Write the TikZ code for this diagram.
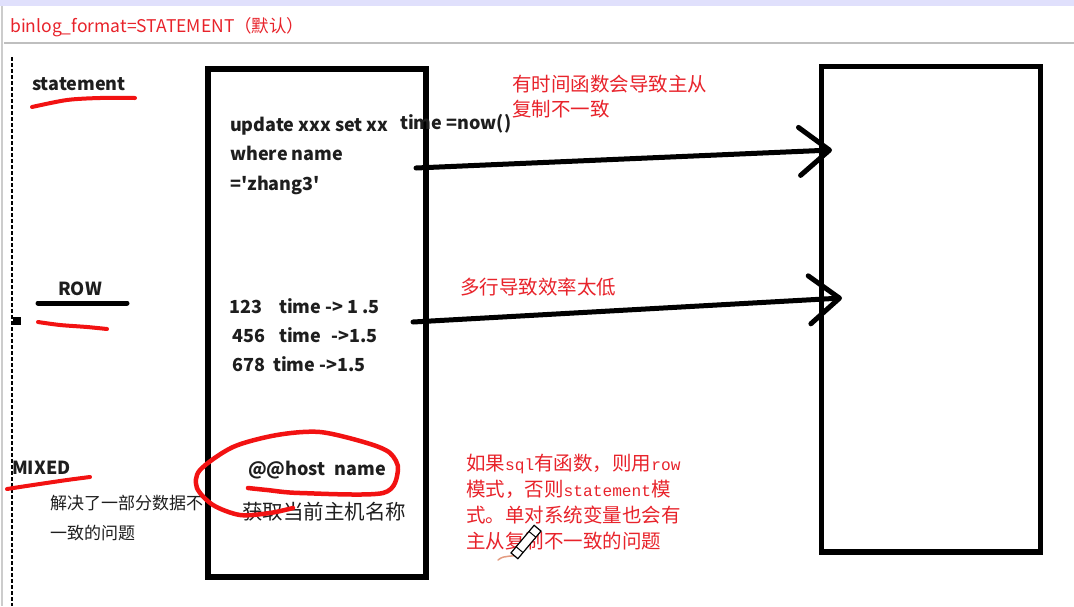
\documentclass[tikz,border=0pt]{standalone}
\usepackage{fontspec}
\setmainfont{Noto Sans CJK SC}
\newfontfamily\plainq{Noto Sans CJK SC}
\newfontfamily\monoa[Scale=0.83]{Liberation Mono}
\usetikzlibrary{arrows.meta}
\definecolor{hred}{HTML}{E8232B}
\definecolor{pred}{HTML}{F21212}
\definecolor{ink}{HTML}{1E1E1E}
\newcommand{\sq}{{\plainq\bfseries '}}
\tikzset{
  txt/.style={anchor=base west, inner sep=0pt, text=ink},
  btxt/.style={txt, font=\bfseries\fontsize{18}{20}\selectfont},
  ctxt/.style={txt, font=\fontsize{17}{20}\selectfont},
  rtxt/.style={anchor=base west, inner sep=0pt, text=hred, font=\fontsize{19.5}{22}\selectfont},
  pen/.style={draw=pred, line width=4pt, line cap=round, line join=round},
  boxb/.style={draw=black, line width=5.5pt, minimum width=#1, inner sep=0pt},
  conn/.style={draw=black, line width=5pt, line cap=round, -{Straight Barb[length=30pt,width=48pt,line width=5pt,round]}}
}
\begin{document}
\begin{tikzpicture}[x=1pt,y=-1pt]
\useasboundingbox (0,0) rectangle (1074,606);
\fill[white] (0,0) rectangle (1074,606);
% window chrome
\fill[black!8!blue!12!white] (0,0) rectangle (1074,6);
\draw[black!25, line width=2pt] (4,43) -- (1074,43);
\draw[black!20, line width=2pt] (1.5,6) -- (1.5,606);
\node[anchor=base west, inner sep=0pt, text=hred, font=\fontsize{17.5}{18}\selectfont] (title) at (10,32) {binlog\_format=STATEMENT（默认）};
% dotted divider
\draw[black, line width=2pt, dash pattern=on 3.5pt off 2.5pt] (12,57) -- (12,606);
\fill[black] (13,317) rectangle (21,325);
% left labels
\node[btxt] (stmt) at (32,90) {statement};
\draw[pen] plot[smooth] coordinates {(32,107) (67,100) (100,98) (135,98)};
\node[btxt] (row) at (58,295) {ROW};
\draw[black, line width=5pt, line cap=round] (38,303) -- (127,303);
\draw[pen] plot[smooth] coordinates {(38,322) (60,325) (87,327) (107,329)};
\node[btxt] (mixed) at (12,474) {MIXED};
\draw[pen] plot[smooth] coordinates {(7,489) (33,485) (67,480) (90,477)};
\node[ctxt] (mix1) at (50,509.5) {解决了一部分数据不};
\node[ctxt] (mix2) at (50,539.5) {一致的问题};
% boxes
\node[boxb=218pt, minimum height=508pt] (L) at (317,323) {};
\node[boxb=219pt, minimum height=485.5pt] (R) at (931,309.25) {};
% box contents
\node[btxt] (u1) at (230,131) {update xxx set xx};
\node[btxt] (u2) at (400,129) {time =now()};
\node[btxt] (u3) at (230,160) {where name};
\node[btxt] (u4) at (230,190) {=\sq zhang3\sq};
\node[btxt] (r1) at (229,313) {123\hspace{17pt}time -> 1 .5};
\node[btxt] (r2) at (232,342) {456\hspace{14pt}time\hspace{10pt}->1.5};
\node[btxt] (r3) at (232,371) {678\hspace{8pt}time ->1.5};
\node[btxt] (h1) at (248,475) {@@host\hspace{9pt}name};
\node[txt, font=\fontsize{20.5}{22}\selectfont] (h2) at (242,519) {获取当前主机名称};
\draw[pen, line width=4.5pt] plot[smooth] coordinates {(248,488) (267,490) (300,493) (383,493) (398,470) (390,453) (367,443) (320,432) (277,435) (233,447) (200,470) (197,488) (213,505) (240,515) (270,513) (293,508)};
% connectors
\coordinate (a1s) at (416,168);
\coordinate (a1e) at (832,150);
\coordinate (a2s) at (413,322);
\coordinate (a2e) at (842,298);
\draw[conn] (a1s) -- (a1e);
\draw[conn] (a2s) -- (a2e);
% red notes
\node[rtxt] (n1) at (512,91.5) {有时间函数会导致主从};
\node[rtxt] (n2) at (512,116.5) {复制不一致};
\node[rtxt] (n3) at (460,294.5) {多行导致效率太低};
\node[rtxt] (m1) at (466,470.6) {如果{\monoa sql}有函数，则用{\monoa row}};
\node[rtxt] (m2) at (466,496.6) {模式，否则{\monoa statement}模};
\node[rtxt] (m3) at (466,522.6) {式。单对系统变量也会有};
\node[rtxt] (m4) at (466,548.6) {主从复制不一致的问题};
% cursor
\draw[brown!70!red!60, line width=1.5pt, line cap=round] (498,560) .. controls (505,554) and (512,558) .. (519,554);
\begin{scope}[shift={(526,542)}, rotate=50]
\draw[black, line width=1.2pt, fill=white] (-18,-4.5) rectangle (18,4.5);
\draw[black, line width=1pt] (-10,-4.5) -- (-10,4.5) (10,-4.5) -- (10,4.5);
\end{scope}
\end{tikzpicture}
\end{document}
